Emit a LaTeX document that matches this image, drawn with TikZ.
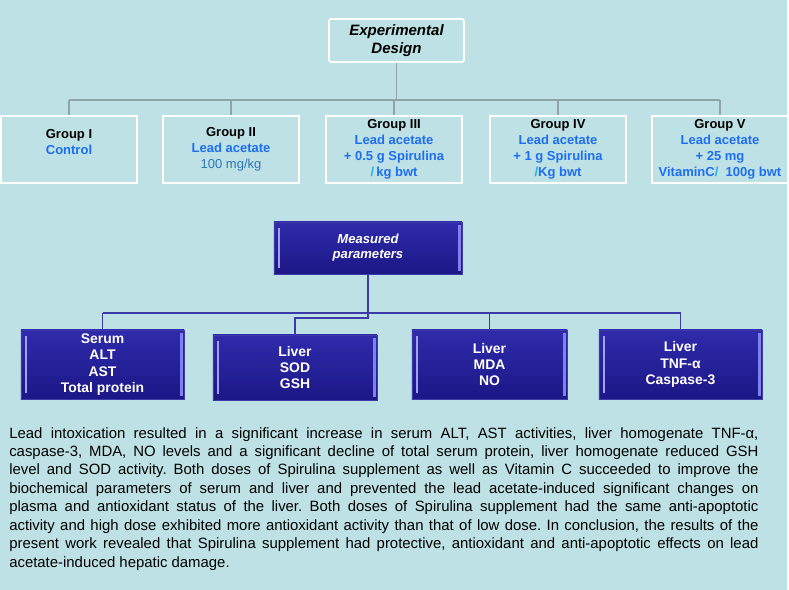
\documentclass[tikz,border=0pt]{standalone}
\usepackage{fontspec}
\setmainfont{Liberation Sans}
\usepackage{tikz}
\usetikzlibrary{positioning,calc}
\definecolor{cbg}{HTML}{BDE1E4}
\definecolor{cblue}{HTML}{1E6EF2}
\definecolor{csteel}{HTML}{2F77B8}
\definecolor{cslash}{HTML}{22AEEF}
\definecolor{cgreyl}{HTML}{8FA3A8}
\definecolor{cnavyt}{HTML}{2F2BAB}
\definecolor{cnavyb}{HTML}{1B1786}
\definecolor{cnavyl}{HTML}{3D3BA8}
\definecolor{cbevel}{HTML}{8080F0}
\tikzset{
  topbox/.style={draw=white, line width=1.2pt, rounded corners=1.5pt, align=center, inner sep=0pt,
    minimum width=3.375cm, minimum height=1.075cm, font=\fontsize{10.7}{12.4}\selectfont\bfseries\itshape},
  grpbox/.style={draw=white, line width=1.1pt, align=center, inner sep=0pt,
    minimum width=3.4cm, minimum height=1.675cm, text=cblue, font=\fontsize{9.25}{11.4}\selectfont\bfseries},
  parbox/.style={draw=cnavyl, line width=0.6pt, top color=cnavyt, bottom color=cnavyb, text=white,
    align=center, inner sep=0pt, font=\fontsize{9.9}{11.6}\selectfont\bfseries,
    path picture={
      \fill[cbevel!75] ([xshift=3.2pt,yshift=-4pt]path picture bounding box.north west)
        rectangle ([xshift=4.3pt,yshift=4pt]path picture bounding box.south west);
      \fill[cbevel] ([xshift=-3pt,yshift=-2pt]path picture bounding box.north east)
        rectangle ([xshift=-1pt,yshift=2pt]path picture bounding box.south east);
    }},
  treeg/.style={draw=cgreyl, line width=1.4pt},
  treen/.style={draw=cnavyl, line width=1.2pt},
  summ/.style={inner sep=0pt, anchor=north west, text width=18.725cm, align=justify,
    font=\fontsize{10.6}{13.1}\selectfont},
}

\begin{document}
\begin{tikzpicture}[x=0.025cm,y=-0.025cm]
\path[use as bounding box, fill=cbg] (0,0) rectangle (789,590);
\fill[white] (787,0) rectangle (789,590);
% experimental design
\node[topbox] (ed) at (396.5,40.5) {Experimental\\Design};
\coordinate (gbar) at (0,100);
\node[grpbox] (g1) at (69,149.5) {\textcolor{black}{Group I}\\Control\\\mbox{}};
\node[grpbox] (g2) at (231,149.5) {\textcolor{black}{Group II}\\Lead acetate\\{\mdseries\color{csteel}100 mg/kg}};
\node[grpbox] (g3) at (394,149.5) {\textcolor{black}{Group III}\\Lead acetate\\+ 0.5 g Spirulina\\\textcolor{cslash}{/}\,kg bwt};
\node[grpbox] (g4) at (558,149.5) {\textcolor{black}{Group IV}\\Lead acetate\\+ 1 g Spirulina\\\textcolor{cslash}{/}Kg bwt};
\node[grpbox] (g5) at (720,149.5) {\textcolor{black}{Group V}\\Lead acetate\\+ 25 mg\\VitaminC\textcolor{cslash}{/}\ \ 100g bwt};
\draw[treeg] (ed.south) -- (ed.south |- gbar);
\draw[treeg] (g1.north |- gbar) -- (g5.north |- gbar);
\foreach \g in {g1,g2,g3,g4,g5}
  \draw[treeg] (\g.north |- gbar) -- (\g.north);
% measured parameters
\node[parbox, font=\fontsize{9.3}{10.7}\selectfont\bfseries\itshape, minimum width=4.7cm, minimum height=1.3cm] (mp) at (368,248) {Measured\\parameters};
\coordinate (mbar) at (0,313);
\coordinate (mjog) at (0,318);
\node[parbox, minimum width=4.075cm, minimum height=1.725cm] (m1) at (102.5,364.5) {Serum\\ALT\\AST\\Total protein};
\node[parbox, minimum width=4.1cm, minimum height=1.625cm] (m2) at (295,367.5) {Liver\\SOD\\GSH};
\node[parbox, minimum width=3.875cm, minimum height=1.725cm] (m3) at (489.5,364.5) {Liver\\MDA\\NO};
\node[parbox, minimum width=4.075cm, minimum height=1.725cm] (m4) at (680.5,364.5) {Liver\\TNF-α\\Caspase-3};
\draw[treen] (m1.north |- mbar) -- (m4.north |- mbar);
\foreach \m in {m1,m3,m4}
  \draw[treen] (\m.north |- mbar) -- (\m.north);
\draw[treen] (mp.south) -- (mp.south |- mjog) -| (m2.north);
% summary
\node[summ] (sm) at (9,427) {\frenchspacing\hyphenpenalty=10000\exhyphenpenalty=10000
Lead intoxication resulted in a significant increase in serum ALT, AST activities, liver homogenate TNF-α,\linebreak
caspase-3, MDA, NO levels and a significant decline of total serum protein, liver homogenate reduced GSH\linebreak
level and SOD activity. Both doses of Spirulina supplement as well as Vitamin C succeeded to improve the\linebreak
biochemical parameters of serum and liver and prevented the lead acetate-induced significant changes on\linebreak
plasma and antioxidant status of the liver. Both doses of Spirulina supplement had the same anti-apoptotic\linebreak
activity and high dose exhibited more antioxidant activity than that of low dose. In conclusion, the results of the\linebreak
present work revealed that Spirulina supplement had protective, antioxidant and anti-apoptotic effects on lead\linebreak
acetate-induced hepatic damage.};
\end{tikzpicture}
\end{document}
